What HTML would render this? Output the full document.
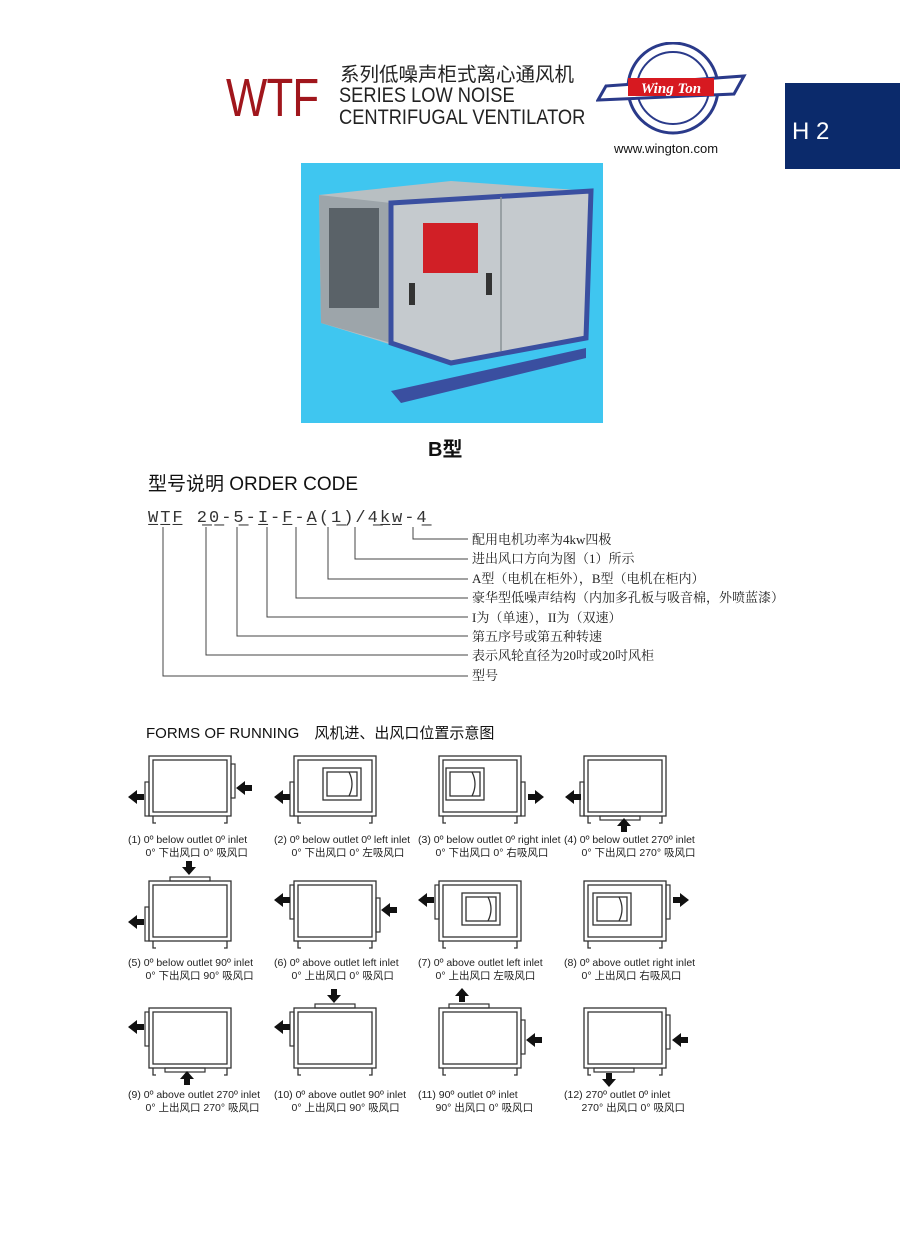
<!DOCTYPE html>
<html><head><meta charset="utf-8">
<style>
*{margin:0;padding:0;box-sizing:border-box}
body{width:900px;height:1256px;background:#fff;position:relative;overflow:hidden;font-family:"Liberation Sans","Noto Sans CJK SC",sans-serif}
.a{position:absolute;white-space:nowrap}
</style></head><body>
<div class="a" style="left:226px;top:68px;font-size:54px;line-height:60px;color:#a0161c;letter-spacing:-1px;transform:scaleX(0.81);transform-origin:left">WTF</div>
<div class="a" style="left:340px;top:63px;font-size:19.5px;line-height:24px;color:#222">系列低噪声柜式离心通风机</div>
<div class="a" style="left:339px;top:85px;font-size:21px;color:#222;transform:scaleX(0.87);transform-origin:left;line-height:22px">SERIES LOW NOISE<br>CENTRIFUGAL VENTILATOR</div>
<svg class="a" style="left:596px;top:42px" width="156" height="96" viewBox="0 0 156 96">
<circle cx="77" cy="46" r="45" fill="none" stroke="#2a3a8a" stroke-width="3"/>
<circle cx="77" cy="46" r="36" fill="none" stroke="#2a3a8a" stroke-width="2"/>
<path d="M10 44 L148 34 L138 52 L2 58 Z" fill="#fff" stroke="#2a3a8a" stroke-width="3"/>
<rect x="32" y="36" width="86" height="18" fill="#d71920"/>
<text x="75" y="51" font-family="Liberation Serif" font-weight="bold" font-style="italic" font-size="15" fill="#fff" text-anchor="middle">Wing Ton</text>
</svg>
<div class="a" style="left:614px;top:141px;font-size:13px;color:#111">www.wington.com</div>
<div class="a" style="left:785px;top:83px;width:115px;height:86px;background:#0b2a6b;color:#fff;font-size:24px;padding:35px 0 0 7px">H 2</div>
<svg class="a" style="left:301px;top:163px" width="302" height="260">
<rect width="302" height="260" fill="#3fc6f0"/>
<polygon points="18,32 150,18 290,28 285,175 150,200 20,160" fill="#b8bfc2"/>
<polygon points="18,32 90,40 90,180 20,160" fill="#9da5aa"/>
<polygon points="90,40 290,28 285,175 150,200 90,180" fill="#c5cace" stroke="#3a4fa0" stroke-width="5"/>
<line x1="200" y1="34" x2="200" y2="188" stroke="#8a9296" stroke-width="1.5"/>
<rect x="28" y="45" width="50" height="100" fill="#5a6268"/>
<rect x="122" y="60" width="55" height="50" fill="#d11f26"/>
<rect x="108" y="120" width="6" height="22" fill="#333"/><rect x="185" y="110" width="6" height="22" fill="#333"/>
<polygon points="90,228 285,185 285,195 100,240" fill="#3a4fa0"/>
</svg>
<div class="a" style="left:428px;top:433px;font-size:20px;font-weight:bold;color:#111">B型</div>
<div class="a" style="left:148px;top:469px;font-size:19px;color:#111">型号说明 ORDER CODE</div>
<div class="a" style="left:148px;top:509px;font-family:'Liberation Mono',monospace;font-size:17px;color:#333;letter-spacing:2px">W̲T̲F̲ 2̲0̲-5̲-I̲-F̲-A̲(1̲)/4̲k̲w̲-4̲</div>
<svg class="a" style="left:0;top:0" width="900" height="700">
<g fill="none" stroke="#444" stroke-width="1">
<path d="M413 527 V539 H468"/><path d="M355 527 V559 H468"/><path d="M328 527 V579 H468"/><path d="M296 527 V598 H468"/><path d="M267 527 V617 H468"/><path d="M237 527 V636 H468"/><path d="M206 527 V655 H468"/><path d="M163 527 V676 H468"/>
</g></svg>
<div class="a" style="left:472px;top:530px;font-size:13px;line-height:19.4px;color:#222;font-family:'Liberation Serif','Noto Serif CJK SC',serif">配用电机功率为4kw四极<br>进出风口方向为图（1）所示<br>A型（电机在柜外），B型（电机在柜内）<br>豪华型低噪声结构（内加多孔板与吸音棉，外喷蓝漆）<br>I为（单速），II为（双速）<br>第五序号或第五种转速<br>表示风轮直径为20吋或20吋风柜<br>型号</div>
<div class="a" style="left:146px;top:722px;font-size:15px;color:#111">FORMS OF RUNNING　风机进、出风口位置示意图</div>
<svg class="a" style="left:0;top:0" width="900" height="1256">
<defs>
<g id="cab" fill="none" stroke="#333" stroke-width="1.3"><rect x="0" y="0" width="82" height="60"/><rect x="4" y="4" width="74" height="52"/><path d="M4 60 V67 H7 M78 60 V67 H75"/></g>
<g id="win" fill="none" stroke="#333" stroke-width="1.3"><rect x="0" y="0" width="38" height="32"/><rect x="4" y="4" width="30" height="24"/><path d="M26 4 Q32 16 26 28"/></g>
<polygon id="al" points="0,7 9,0 9,4 16,4 16,10 9,10 9,14" fill="#111"/>
<polygon id="ar" points="16,7 7,0 7,4 0,4 0,10 7,10 7,14" fill="#111"/>
<polygon id="ad" points="7,14 0,6 4,6 4,0 10,0 10,6 14,6" fill="#111"/>
<polygon id="au" points="7,0 0,8 4,8 4,14 10,14 10,8 14,8" fill="#111"/>
<rect id="fv" width="4" height="34" fill="none" stroke="#333" stroke-width="1.2"/>
<rect id="fh" width="40" height="4" fill="none" stroke="#333" stroke-width="1.2"/>
</defs>
<use href="#cab" x="149" y="756"/><use href="#fv" x="145" y="782"/><use href="#al" x="128" y="790"/><use href="#fv" x="231" y="764"/><use href="#al" x="236" y="781"/>
<use href="#cab" x="294" y="756"/><use href="#fv" x="290" y="782"/><use href="#al" x="274" y="790"/><use href="#win" x="323" y="768"/>
<use href="#cab" x="439" y="756"/><use href="#win" x="446" y="768"/><use href="#fv" x="521" y="782"/><use href="#ar" x="528" y="790"/>
<use href="#cab" x="584" y="756"/><use href="#fv" x="580" y="782"/><use href="#al" x="565" y="790"/><use href="#fh" x="600" y="816"/><use href="#au" x="617" y="818"/>
<use href="#cab" x="149" y="881"/><use href="#fh" x="170" y="877"/><use href="#ad" x="182" y="861"/><use href="#fv" x="145" y="907"/><use href="#al" x="128" y="915"/>
<use href="#cab" x="294" y="881"/><use href="#fv" x="290" y="885"/><use href="#al" x="274" y="893"/><use href="#fv" x="376" y="898"/><use href="#al" x="381" y="903"/>
<use href="#cab" x="439" y="881"/><use href="#fv" x="435" y="885"/><use href="#al" x="418" y="893"/><use href="#win" x="462" y="893"/>
<use href="#cab" x="584" y="881"/><use href="#win" x="593" y="893"/><use href="#fv" x="666" y="885"/><use href="#ar" x="673" y="893"/>
<use href="#cab" x="149" y="1008"/><use href="#fv" x="145" y="1012"/><use href="#al" x="128" y="1020"/><use href="#fh" x="165" y="1068"/><use href="#au" x="180" y="1071"/>
<use href="#cab" x="294" y="1008"/><use href="#fh" x="315" y="1004"/><use href="#ad" x="327" y="989"/><use href="#fv" x="290" y="1012"/><use href="#al" x="274" y="1020"/>
<use href="#cab" x="439" y="1008"/><use href="#fh" x="449" y="1004"/><use href="#au" x="455" y="988"/><use href="#fv" x="521" y="1020"/><use href="#al" x="526" y="1033"/>
<use href="#cab" x="584" y="1008"/><use href="#fv" x="666" y="1015"/><use href="#al" x="672" y="1033"/><use href="#fh" x="594" y="1068"/><use href="#ad" x="602" y="1073"/>
</svg>
<div style="font-size:10.5px;color:#222;line-height:13px">
<div class="a" style="left:128px;top:834px">(1) 0º below outlet 0º inlet<br>&nbsp;&nbsp;&nbsp;&nbsp;&nbsp;&nbsp;0°  下出风口  0°  吸风口</div>
<div class="a" style="left:274px;top:834px">(2) 0º below outlet 0º left inlet<br>&nbsp;&nbsp;&nbsp;&nbsp;&nbsp;&nbsp;0°  下出风口  0°  左吸风口</div>
<div class="a" style="left:418px;top:834px">(3) 0º below outlet 0º right inlet<br>&nbsp;&nbsp;&nbsp;&nbsp;&nbsp;&nbsp;0°  下出风口  0°  右吸风口</div>
<div class="a" style="left:564px;top:834px">(4) 0º below outlet 270º inlet<br>&nbsp;&nbsp;&nbsp;&nbsp;&nbsp;&nbsp;0°  下出风口  270°  吸风口</div>
<div class="a" style="left:128px;top:957px">(5) 0º below outlet 90º inlet<br>&nbsp;&nbsp;&nbsp;&nbsp;&nbsp;&nbsp;0°  下出风口  90°  吸风口</div>
<div class="a" style="left:274px;top:957px">(6) 0º above outlet left inlet<br>&nbsp;&nbsp;&nbsp;&nbsp;&nbsp;&nbsp;0°  上出风口  0°  吸风口</div>
<div class="a" style="left:418px;top:957px">(7) 0º above outlet left inlet<br>&nbsp;&nbsp;&nbsp;&nbsp;&nbsp;&nbsp;0°  上出风口  左吸风口</div>
<div class="a" style="left:564px;top:957px">(8) 0º above outlet right inlet<br>&nbsp;&nbsp;&nbsp;&nbsp;&nbsp;&nbsp;0°  上出风口  右吸风口</div>
<div class="a" style="left:128px;top:1089px">(9) 0º above outlet 270º inlet<br>&nbsp;&nbsp;&nbsp;&nbsp;&nbsp;&nbsp;0°  上出风口  270°  吸风口</div>
<div class="a" style="left:274px;top:1089px">(10) 0º above outlet 90º inlet<br>&nbsp;&nbsp;&nbsp;&nbsp;&nbsp;&nbsp;0°  上出风口  90°  吸风口</div>
<div class="a" style="left:418px;top:1089px">(11) 90º outlet 0º inlet<br>&nbsp;&nbsp;&nbsp;&nbsp;&nbsp;&nbsp;90°  出风口  0°  吸风口</div>
<div class="a" style="left:564px;top:1089px">(12) 270º outlet 0º inlet<br>&nbsp;&nbsp;&nbsp;&nbsp;&nbsp;&nbsp;270°  出风口  0°  吸风口</div>
</div>
</body></html>
